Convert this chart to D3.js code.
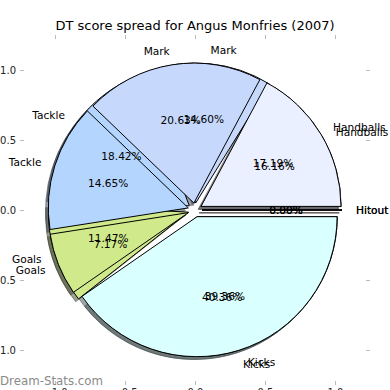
<!DOCTYPE html>
<html>
<head>
<meta charset="utf-8">
<script src="https://cdn.jsdelivr.net/npm/d3@7"></script>
<style>
  body { margin: 0; background: #fff; }
  text { font-family: "DejaVu Sans", sans-serif; }
</style>
</head>
<body>
<div id="chart"></div>
<script>
const layout = {
    width: 390,
    height: 390,
    left: 20,
    right: 370,
    top: 35,
    bottom: 385
};

// slices in drawing order, counter-clockwise from east
var categories = ["Hitout", "Handballs", "Mark", "Tackle", "Goals", "Kicks"];
var colours = ["#f4dede", "#eaf0ff", "#c6d9fc", "#b4d5fd", "#cfe98b", "#d9ffff"];
// first pie drawn (sits underneath)
var spreadB = [0.00, 16.16, 14.60, 18.42, 11.47, 39.36];
// second pie drawn (on top)
var spreadA = [0.00, 17.19, 20.63, 14.65, 7.17, 40.36];
var explode = [0.05, 0.05, 0.05, 0.05, 0.05, 0.05];
var tickValues = [-1.0, -0.5, 0.0, 0.5, 1.0];

let svg = d3.select("#chart").append("svg")
    .attr("width", layout.width)
    .attr("height", layout.height);

let x = d3.scaleLinear().domain([-1.25, 1.25]).range([layout.left, layout.right]);
let y = d3.scaleLinear().domain([-1.25, 1.25]).range([layout.bottom, layout.top]);
const rad = x(1) - x(0);

// wedges for one pie: angles in degrees, matplotlib style
function makeWedges(values) {
    let total = d3.sum(values);
    let t = 0;
    return values.map((v, i) => {
        let frac = v / total;
        let t1 = t, t2 = t + frac * 360;
        t = t2;
        let tm = (t1 + t2) / 2 * Math.PI / 180;
        let cx = explode[i] * Math.cos(tm), cy = explode[i] * Math.sin(tm);
        return {name: categories[i], colour: colours[i], frac, t1, t2, tm, cx, cy};
    });
}

function wedgePath(w, dx, dy) {
    let p = d3.path();
    let a1 = w.t1 * Math.PI / 180, a2 = w.t2 * Math.PI / 180;
    let px = x(w.cx) + dx, py = y(w.cy) + dy;
    p.moveTo(px, py);
    p.lineTo(x(w.cx + Math.cos(a1)) + dx, y(w.cy + Math.sin(a1)) + dy);
    p.arc(px, py, rad, -a1, -a2, true);
    p.closePath();
    return p.toString();
}

function shade(c) {
    let rgb = d3.rgb(c);
    return d3.rgb(rgb.r * 0.3, rgb.g * 0.3, rgb.b * 0.3).toString();
}

let pies = [makeWedges(spreadB), makeWedges(spreadA)];
const sdx = x(-0.02) - x(0), sdy = y(-0.02) - y(0);

// shadows first
pies.forEach(ws => {
    svg.append("g").selectAll("path")
        .data(ws).enter().append("path")
        .attr("d", d => wedgePath(d, sdx, sdy))
        .attr("fill", d => shade(d.colour))
        .attr("stroke", d => shade(d.colour))
        .attr("fill-opacity", 0.5)
        .attr("stroke-opacity", 0.5)
        .attr("stroke-width", 1);
});

pies.forEach(ws => {
    svg.append("g").selectAll("path")
        .data(ws).enter().append("path")
        .attr("d", d => wedgePath(d, 0, 0))
        .attr("fill", d => d.colour)
        .attr("stroke", "#000")
        .attr("stroke-width", 1)
        .attr("stroke-linejoin", "round");
});

// labels and percentages
pies.forEach(ws => {
    let g = svg.append("g").attr("font-size", 10.6).attr("fill", "#000");
    g.selectAll(".lbl")
        .data(ws).enter().append("text")
        .attr("class", "lbl")
        .attr("x", d => x(d.cx + 1.1 * Math.cos(d.tm)))
        .attr("y", d => y(d.cy + 1.1 * Math.sin(d.tm)))
        .attr("text-anchor", d => (d.cx + 1.1 * Math.cos(d.tm)) > 0 ? "start" : "end")
        .attr("dominant-baseline", "central")
        .text(d => d.name);
    g.selectAll(".pct")
        .data(ws).enter().append("text")
        .attr("class", "pct")
        .attr("x", d => x(d.cx + 0.6 * Math.cos(d.tm)))
        .attr("y", d => y(d.cy + 0.6 * Math.sin(d.tm)))
        .attr("text-anchor", "middle")
        .attr("dominant-baseline", "central")
        .text(d => (d.frac * 100).toFixed(2) + "%");
});

// axes: inward ticks on all four sides
const fmt = d3.format(".1f");
function styleAxis(a) {
    a.select(".domain").remove();
    a.selectAll("line").attr("stroke", "#bbb");
    a.selectAll("text").attr("fill", "#222").attr("font-size", 10)
        .attr("font-family", "DejaVu Sans");
}
svg.append("g").attr("transform", `translate(${layout.left},0)`)
    .call(d3.axisLeft(y).tickValues(tickValues).tickSize(-4).tickPadding(4).tickFormat(d => fmt(d).replace("-", "\u2212")))
    .call(styleAxis);
svg.append("g").attr("transform", `translate(${layout.right},0)`)
    .call(d3.axisRight(y).tickValues(tickValues).tickSize(-4).tickFormat(""))
    .call(styleAxis);
svg.append("g").attr("transform", `translate(0,${layout.top})`)
    .call(d3.axisTop(x).tickValues(tickValues).tickSize(-4).tickFormat(""))
    .call(styleAxis);
svg.append("g").attr("transform", `translate(0,${layout.bottom})`)
    .call(d3.axisBottom(x).tickValues(tickValues).tickSize(-4).tickPadding(4).tickFormat(d => fmt(d).replace("-", "\u2212")))
    .call(styleAxis);

// title
svg.append("text")
    .attr("x", (layout.left + layout.right) / 2)
    .attr("y", 30)
    .attr("text-anchor", "middle")
    .attr("font-size", 13)
    .attr("fill", "#000")
    .text("DT score spread for Angus Monfries (2007)");

// watermark
svg.append("text")
    .attr("x", 0)
    .attr("y", 385)
    .attr("font-size", 11.8)
    .attr("fill", "#8a8a8a")
    .text("Dream-Stats.com");
</script>
</body>
</html>
